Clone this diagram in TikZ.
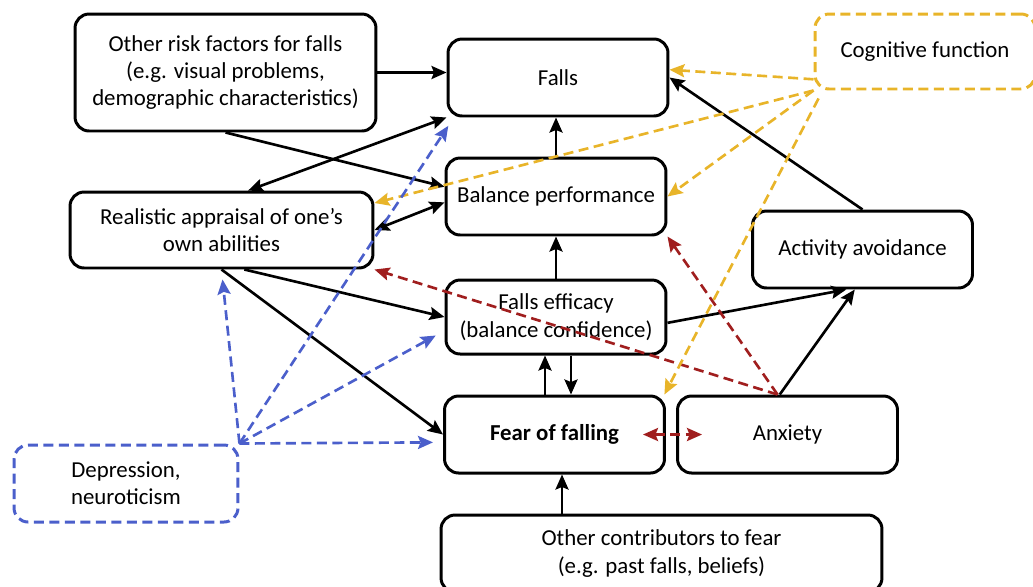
\documentclass[tikz,border=0pt]{standalone}
\usepackage{fontspec}
\setmainfont{Carlito}
\usepackage{tikz}
\usetikzlibrary{arrows.meta,positioning,calc}
\definecolor{fallred}   {HTML}{A01E1E}
\definecolor{fallyellow}{HTML}{E8B429}
\definecolor{fallblue}  {HTML}{4B5FCB}

\begin{document}
\begin{tikzpicture}[
  box/.style  ={draw,line width=1.7pt,rounded corners=8pt,align=center,
                minimum width=4.4cm,minimum height=1.54cm,inner sep=2pt,
                font=\fontsize{13}{15.6}\selectfont},
  dbox/.style ={box,dash pattern=on 0.2cm off 0.11cm},
  tip/.style  ={-{Stealth[length=0.3cm,width=0.26cm,inset=0.05cm]}},
  arr/.style  ={tip,line width=1.5pt},
  darr/.style ={{Stealth[length=0.3cm,width=0.26cm,inset=0.05cm]}-{Stealth[length=0.3cm,width=0.26cm,inset=0.05cm]},line width=1.5pt},
  farr/.style ={arr,dash pattern=on 0.2cm off 0.11cm},
  yel/.style  ={farr,draw=fallyellow},
  blu/.style  ={farr,draw=fallblue,shorten >=0.2cm},
  red/.style  ={farr,draw=fallred},
  x=0.02cm, y=-0.02cm
]
\useasboundingbox (0,0) rectangle (1033,586);

%% Boxes (positions in pixels of the original figure, y down)
\node[box]  (risk) at (225.5, 72.5) [minimum width=6.02cm,minimum height=2.34cm]
  {Other risk factors for falls\\(e.g. visual problems,\\demographic characteristics)};
\node[box]  (falls) at (558, 77.5)   {Falls};
\node[dbox,draw=fallyellow] (cog) at (925, 51.5) [minimum height=1.5cm] {Cognitive function};
\node[box]  (bal)  at (556, 196.5)   {Balance performance};
\node[box]  (real) at (221.5, 230) [minimum width=6.06cm,minimum height=1.52cm]
  {Realistic appraisal of one's\\own abilities};
\node[box]  (act)  at (862.5, 249.5) {Activity avoidance};
\node[box]  (eff)  at (556, 317) [minimum height=1.48cm] {Falls efficacy\\(balance confidence)};
\node[box]  (fear) at (554.5, 434.5) {\bfseries Fear of falling};
\node[box]  (anx)  at (787.5, 434.5) {Anxiety};
\node[dbox,draw=fallblue] (dep) at (126, 483.5) [minimum width=4.48cm] {Depression,\\neuroticism};
\node[box]  (other) at (661.5, 553.5) [minimum width=8.82cm]
  {Other contributors to fear\\(e.g. past falls, beliefs)};

%% Solid links
\draw[arr] (risk.east) -- (risk.east -| falls.west);
\draw[arr] (risk.south) -- (bal.175);
\draw[darr] (real.56) -- (falls.south west);
\draw[darr] (real.east) -- (bal.183);
\draw[arr] (real.-60) -- (eff.west);
\draw[arr] (real.south) -- (fear.west);
\draw[arr] (bal.north) -- (bal.north |- falls.south);
\draw[arr] (eff.north) -- (eff.north |- bal.south);
\draw[arr] ([xshift=-0.19cm]fear.north) -- ([xshift=-0.19cm]fear.north |- eff.south);
\draw[arr] ([xshift=0.33cm]fear.north |- eff.south) -- ([xshift=0.33cm]fear.north);
\draw[arr] ([xshift=0.15cm]fear.south |- other.north) -- ([xshift=0.15cm]fear.south);
\draw[arr] (eff.357) -- (act.248);
\draw[arr] (anx.101) -- (act.259);
\draw[arr] (act.north) -- (falls.east);

%% Anxiety (red, dashed)
\draw[red,{Stealth[length=0.3cm,width=0.26cm,inset=0.05cm]}-{Stealth[length=0.3cm,width=0.26cm,inset=0.05cm]}]
  ([xshift=-0.46cm]fear.east) -- ([xshift=0.52cm]anx.west);
\draw[red] (anx.104) -- (real.south east);
\draw[red] (anx.104) -- (bal.south east);

%% Cognitive function (yellow, dashed)
\draw[yel] (cog.194) -- (falls.4);
\draw[yel] (cog.south west) -- (real.10);
\draw[yel] (cog.south west) -- (bal.east);
\draw[yel] ([xshift=0.1cm,yshift=-0.16cm]cog.south west) -- (fear.20);

%% Depression (blue, dashed)
\draw[blu] (dep.north east) -- (real.south);
\draw[blu] (dep.north east) -- (falls.201);
\draw[blu] (dep.north east) -- (eff.187);
\draw[blu] (dep.north east) -- (fear.184);

\end{tikzpicture}
\end{document}
